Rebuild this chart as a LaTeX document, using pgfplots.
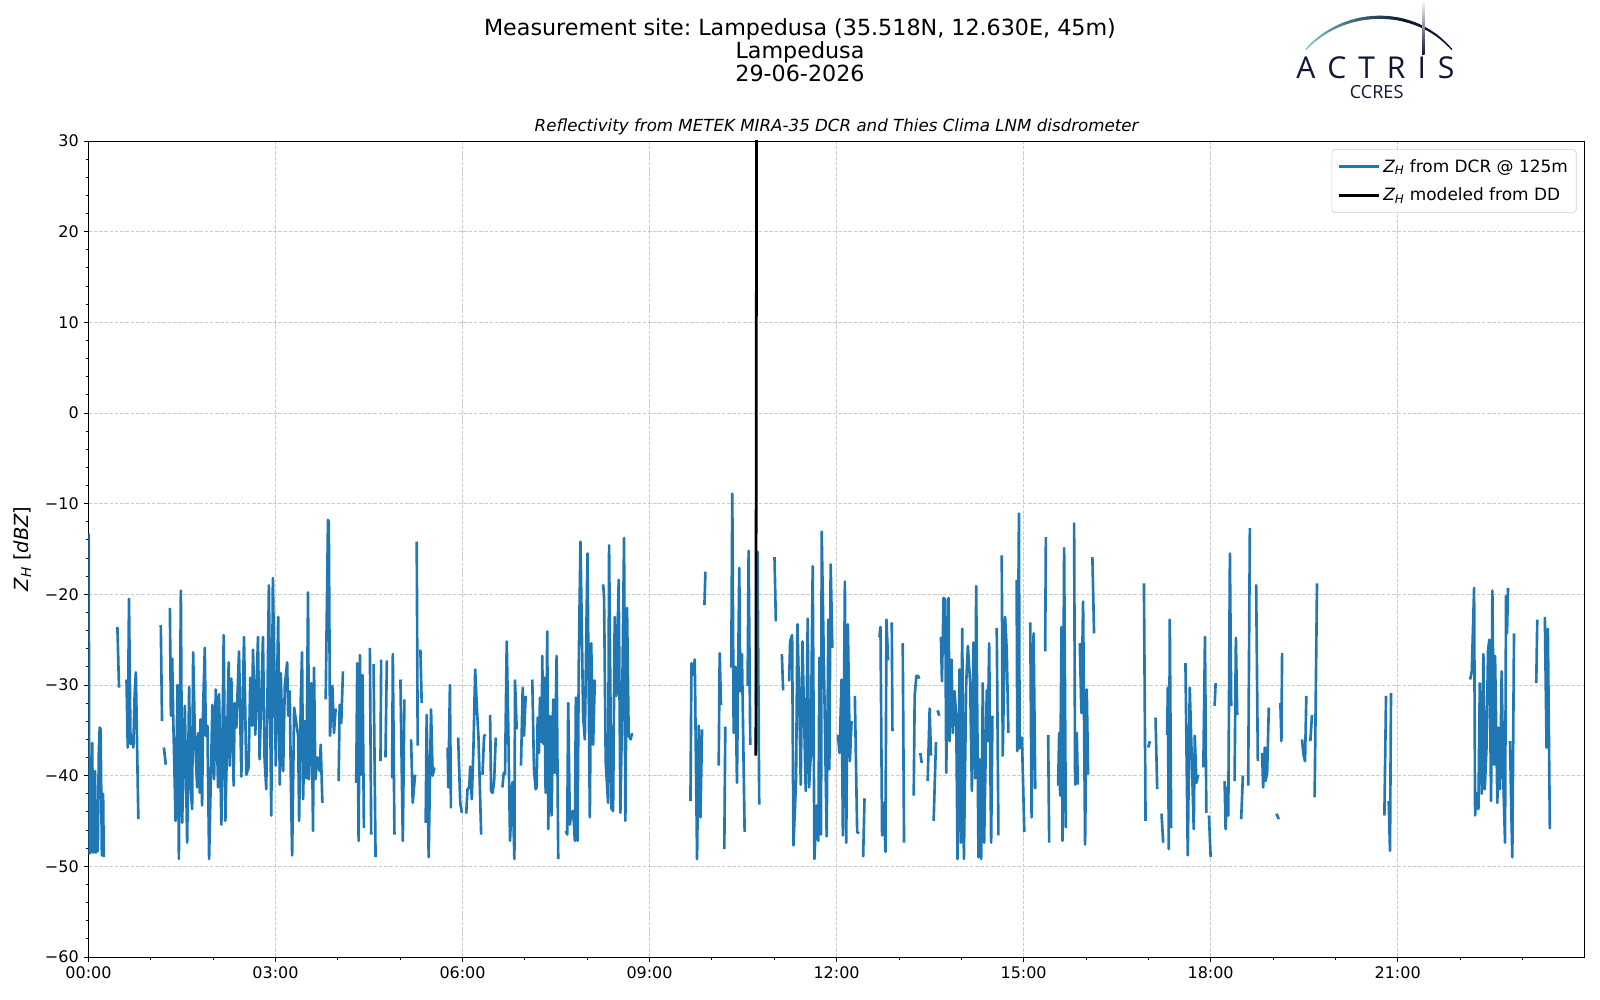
\documentclass[border=0pt]{standalone}
\usepackage{fontspec}
\setmainfont{DejaVu Sans}
\newfontfamily\logofont{Open Sans}
\usepackage{pgfplots}
\pgfplotsset{compat=1.18}
\definecolor{mplblue}{HTML}{1F77B4}
\definecolor{logonavy}{HTML}{0E1634}
\definecolor{logoteal}{HTML}{74C9C3}

\begin{document}
\frenchspacing
\begin{tikzpicture}
\useasboundingbox (-63.7pt,-31.0pt) rectangle (1088.3pt,689.0pt);
\begin{axis}[
  at={(0pt,0pt)}, anchor=south west,
  scale only axis, width=1077.3pt, height=587.5pt,
  xmin=0, xmax=24, ymin=-60, ymax=30,
  xtick={0,3,...,21},
  xticklabels={00:00,03:00,06:00,09:00,12:00,15:00,18:00,21:00},
  minor xtick={1,2,4,5,7,8,10,11,13,14,16,17,19,20,22,23},
  ytick={-60,-50,...,30},
  yticklabels={−60,−50,−40,−30,−20,−10,0,10,20,30},
  minor ytick={-58,-56,...,28},
  tick align=outside, tick pos=left,
  major tick length=3.5pt, minor tick length=2pt,
  every tick/.style={black, line width=0.6pt},
  grid=major,
  major grid style={black!20, dash pattern=on 2.6pt off 1.2pt, line width=0.6pt},
  axis line style={line width=0.6pt},
  tick label style={font=\fontsize{11.5}{13}\selectfont},
  ylabel={{\itshape Z}\textsubscript{\itshape H} [{\itshape dBZ}]},
  ylabel style={at={(axis description cs:-0.0442,0.5)}, anchor=center, font=\fontsize{14}{16}\selectfont},
  title={Reflectivity from METEK MIRA-35 DCR and Thies Clima LNM disdrometer},
  title style={at={(axis description cs:0.5,1)}, anchor=base, yshift=0.5pt, font=\itshape\fontsize{12}{14}\selectfont},
  legend style={at={(1,1)}, anchor=north east, xshift=-5.9pt, yshift=-5.9pt,
    draw=black!20, rounded corners=2.5pt, fill=white, fill opacity=0.8, text opacity=1,
    font=\fontsize{12.2}{14}\selectfont, inner xsep=4pt, inner ysep=5pt, row sep=6pt},
  legend cell align=left,
  legend image code/.code={\draw[#1] (-2pt,0pt) -- (27pt,0pt);},
  unbounded coords=jump,
]
\addplot[mplblue, line width=1.9pt, line join=round] coordinates {
(0.005,-13.3)(0.012,-48.6)(0.04,-48.4)(0.06,-36.4)(0.075,-48.5)(0.09,-48.2)(0.105,-39.5)(0.12,-48.5)(0.135,-48.2)(0.15,-48.3)(0.165,-37.7)(0.18,-34.7)(0.195,-34.9)(0.215,-48.8)(0.225,-48.6)(0.235,-42.0)(0.245,-49.0)(0.3,nan)
(0.464,-23.6)(0.49,-30.3)(0.55,nan)
(0.61,-29.4)(0.63,-36.9)(0.65,-20.5)(0.675,-36.5)(0.69,-35.6)(0.72,-36.9)(0.74,-31.2)(0.76,-28.6)(0.80,-44.8)(0.9,nan)
(1.16,-23.4)(1.18,-34.0)(1.19,nan)
(1.21,-36.9)(1.24,-38.8)(1.27,nan)
(1.306,-21.5)(1.322,-33.4)(1.343,-27.1)(1.359,-33.4)(1.397,-45.0)(1.429,-30.0)(1.450,-49.2)(1.482,-19.6)(1.503,-45.2)(1.546,-32.3)(1.583,-47.4)(1.615,-30.2)(1.636,-41.0)(1.663,-43.7)(1.679,-26.4)(1.706,-35.3)(1.743,-41.3)(1.759,-35.3)(1.786,-41.9)(1.796,-33.8)(1.823,-43.3)(1.839,-32.5)(1.866,-25.9)(1.882,-35.6)(1.908,-34.5)(1.935,-49.2)(1.988,-32.2)(2.015,-40.4)(2.042,-30.5)(2.079,-41.3)(2.095,-31.0)(2.132,-45.4)(2.169,-24.5)(2.196,-45.0)(2.249,-27.5)(2.265,-38.9)(2.292,-29.3)(2.329,-41.1)(2.345,-32.0)(2.372,-34.7)(2.415,-26.3)(2.452,-40.1)(2.495,-24.7)(2.532,-39.9)(2.569,-39.1)(2.596,-29.2)(2.623,-34.5)(2.639,-26.1)(2.676,-35.5)(2.719,-24.7)(2.745,-38.2)(2.799,-24.7)(2.825,-38.2)(2.852,-41.5)(2.894,-19.0)(2.932,-44.4)(2.958,-18.2)(3.005,-38.9)(3.043,-22.5)(3.069,-41.0)(3.085,-28.7)(3.123,-39.5)(3.149,-30.1)(3.187,-27.5)(3.203,-33.4)(3.229,-30.7)(3.245,-39.9)(3.267,-48.8)(3.299,-32.5)(3.363,-35.6)(3.379,-45.0)(3.406,-31.4)(3.426,-26.4)(3.443,-42.6)(3.469,-34.0)(3.496,-40.3)(3.522,-19.8)(3.538,-40.4)(3.576,-29.8)(3.602,-46.1)(3.618,-28.1)(3.640,-40.4)(3.672,-38.0)(3.709,-39.5)(3.725,-36.6)(3.752,-43.0)(3.78,nan)
(3.805,-31.6)(3.842,-11.8)(3.855,-12.0)(3.875,-35.6)(3.912,-30.1)(3.938,-35.3)(3.965,-32.6)(3.99,nan)
(4.013,-40.6)(4.029,-32.2)(4.055,-34.2)(4.082,-28.5)(4.2,nan)
(4.295,-40.8)(4.311,-27.6)(4.333,-47.2)(4.354,-26.7)(4.375,-39.9)(4.397,-28.9)(4.418,-45.8)(4.47,nan)
(4.514,-25.9)(4.535,-46.5)(4.55,nan)
(4.573,-27.7)(4.605,-49.0)(4.64,nan)
(4.684,-38.4)(4.695,-27.2)(4.73,nan)
(4.764,-38.0)(4.786,-27.3)(4.83,nan)
(4.871,-40.3)(4.882,-26.6)(4.908,-46.5)(4.95,nan)
(5.004,-29.4)(5.042,-47.2)(5.068,-31.6)(5.12,nan)
(5.175,-36.0)(5.201,-43.0)(5.239,-39.9)(5.25,nan)
(5.265,-14.2)(5.281,-36.7)(5.30,nan)
(5.324,-26.1)(5.345,-32.0)(5.38,nan)
(5.409,-45.2)(5.425,-33.3)(5.457,-49.0)(5.495,-32.7)(5.521,-40.0)(5.548,-39.1)(5.65,nan)
(5.761,-36.9)(5.772,-41.3)(5.798,-30.0)(5.814,-43.6)(5.87,nan)
(5.93,-35.8)(5.963,-43.0)(5.989,-44.1)(6.02,nan)
(6.059,-44.2)(6.080,-41.5)(6.107,-41.3)(6.123,-39.0)(6.149,-42.6)(6.176,-36.7)(6.203,-28.3)(6.229,-32.3)(6.256,-35.8)(6.299,-46.5)(6.31,nan)
(6.320,-39.9)(6.346,-35.6)(6.373,-35.5)(6.40,nan)
(6.442,-33.3)(6.458,-41.7)(6.480,-41.9)(6.506,-40.8)(6.533,-35.8)(6.59,nan)
(6.640,-41.3)(6.661,-39.7)(6.682,-39.8)(6.709,-25.2)(6.736,-35.6)(6.762,-47.2)(6.800,-40.7)(6.832,-49.2)(6.842,-29.5)(6.869,-34.9)(6.9,nan)
(6.938,-38.9)(6.965,-30.3)(6.986,-35.6)(7.013,-31.2)(7.07,nan)
(7.119,-29.4)(7.146,-39.3)(7.173,-41.5)(7.189,-41.3)(7.205,-33.6)(7.226,-37.5)(7.242,-31.4)(7.269,-36.3)(7.279,-26.8)(7.295,-36.5)(7.311,-29.2)(7.333,-41.9)(7.359,-24.1)(7.375,-45.9)(7.402,-33.4)(7.429,-44.4)(7.455,-31.6)(7.482,-39.7)(7.509,-26.8)(7.535,-49.2)(7.6,nan)
(7.658,-46.1)(7.679,-46.5)(7.695,-32.0)(7.722,-45.4)(7.748,-44.1)(7.775,-43.9)(7.802,-47.2)(7.818,-31.4)(7.844,-47.2)(7.866,-26.6)(7.892,-14.2)(7.935,-33.6)(7.962,-36.0)(8.004,-15.5)(8.042,-44.6)(8.064,-25.4)(8.095,-36.6)(8.122,-29.4)(8.19,nan)
(8.255,-18.9)(8.27,-20.2)(8.297,-38.6)(8.335,-43.0)(8.351,-14.6)(8.388,-43.6)(8.415,-43.9)(8.441,-22.5)(8.468,-31.2)(8.505,-18.4)(8.532,-44.1)(8.559,-33.1)(8.591,-13.8)(8.612,-45.0)(8.639,-21.5)(8.665,-35.6)(8.697,-36.0)(8.719,-35.3)(8.75,nan)
(9.656,-42.8)(9.672,-27.6)(9.693,-28.9)(9.725,-27.2)(9.762,-49.2)(9.789,-34.5)(9.816,-44.6)(9.842,-34.9)(9.86,nan)
(9.880,-21.2)(9.896,-17.5)(9.95,nan)
(10.109,-38.9)(10.125,-26.5)(10.146,-32.2)(10.17,nan)
(10.199,-48.1)(10.215,-34.6)(10.25,nan)
(10.311,-28.1)(10.327,-8.9)(10.349,-35.3)(10.375,-28.0)(10.402,-40.8)(10.439,-17.1)(10.455,-30.7)(10.482,-26.6)(10.525,-46.2)(10.55,nan)
(10.573,-30.1)(10.589,-15.2)(10.615,-36.6)(10.66,nan)
(10.706,-32.2)(10.732,-15.3)(10.759,-43.2)(10.85,nan)
(11.004,-15.9)(11.026,-23.0)(11.08,nan)
(11.122,-26.6)(11.143,-30.6)(11.2,nan)
(11.239,-29.6)(11.255,-25.2)(11.287,-24.5)(11.308,-47.7)(11.35,-40.5)(11.372,-23.3)(11.404,-32.6)(11.425,-41.0)(11.452,-25.2)(11.505,-41.7)(11.537,-22.7)(11.559,-41.3)(11.585,-37.8)(11.617,-16.9)(11.644,-49.2)(11.681,-43.3)(11.708,-47.2)(11.724,-27.0)(11.751,-46.5)(11.761,-13.1)(11.814,-34.9)(11.841,-46.7)(11.868,-22.8)(11.884,-39.3)(11.905,-16.7)(11.932,-25.9)(11.97,nan)
(12.021,-35.5)(12.048,-37.5)(12.080,-29.4)(12.101,-46.6)(12.133,-18.6)(12.155,-47.4)(12.181,-23.3)(12.213,-38.4)(12.240,-34.0)(12.27,nan)
(12.293,-31.2)(12.330,-46.2)(12.357,-46.4)(12.39,nan)
(12.426,-49.0)(12.448,-42.5)(12.5,nan)
(12.688,-24.7)(12.704,-23.6)(12.730,-46.6)(12.757,-43.0)(12.784,-48.4)(12.800,-22.8)(12.826,-27.3)(12.86,nan)
(12.885,-23.1)(12.896,-35.1)(12.95,nan)
(13.061,-25.4)(13.082,-47.4)(13.15,nan)
(13.237,-42.2)(13.253,-31.2)(13.279,-29.0)(13.306,-29.0)(13.327,-29.3)(13.335,nan)
(13.343,-37.5)(13.365,-38.6)(13.4,nan)
(13.461,-40.6)(13.493,-32.6)(13.514,-37.8)(13.535,nan)
(13.557,-45.0)(13.594,-36.3)(13.607,nan)
(13.620,-32.8)(13.647,-33.4)(13.66,nan)
(13.674,-24.7)(13.690,-29.6)(13.716,-20.4)(13.743,-20.6)(13.759,-39.7)(13.796,-20.4)(13.812,-36.2)(13.844,-27.2)(13.866,-35.3)(13.892,-30.7)(13.919,-33.4)(13.940,-49.2)(13.972,-28.3)(13.994,-47.4)(14.015,-23.8)(14.042,-49.2)(14.079,-29.8)(14.106,-25.7)(14.143,-29.8)(14.170,-41.7)(14.196,-25.3)(14.223,-40.3)(14.239,-19.1)(14.276,-49.0)(14.292,-38.2)(14.319,-49.2)(14.345,-29.8)(14.367,-47.4)(14.409,-30.6)(14.425,-36.2)(14.447,-25.4)(14.479,-47.4)(14.500,-33.4)(14.53,nan)
(14.569,-23.7)(14.596,-46.6)(14.62,nan)
(14.649,-15.7)(14.665,-37.8)(14.703,-22.5)(14.729,-26.1)(14.756,-35.3)(14.8,nan)
(14.888,-18.4)(14.899,-37.3)(14.925,-11.1)(14.936,-37.0)(14.973,-35.8)(15.011,-46.2)(15.05,nan)
(15.107,-23.1)(15.128,-44.6)(15.160,-24.3)(15.187,-41.5)(15.25,nan)
(15.346,-26.3)(15.357,-13.7)(15.37,nan)
(15.394,-35.5)(15.410,-47.4)(15.45,nan)
(15.554,-41.1)(15.570,-35.3)(15.586,-42.2)(15.608,-23.6)(15.624,-47.2)(15.650,-14.9)(15.677,-45.8)(15.75,nan)
(15.810,-12.1)(15.826,-41.0)(15.853,-35.3)(15.869,-41.0)(15.885,nan)
(15.901,-25.4)(15.927,-33.1)(15.954,-20.8)(15.986,-47.6)(16.013,-30.5)(16.034,-39.9)(16.07,nan)
(16.103,-15.9)(16.130,-24.3)(16.5,nan)
(16.930,-18.8)(16.956,-45.0)(16.98,nan)
(16.999,-36.9)(17.026,-36.2)(17.06,nan)
(17.116,-33.6)(17.143,-41.5)(17.18,nan)
(17.212,-44.2)(17.239,-47.4)(17.27,nan)
(17.303,-35.5)(17.313,-30.3)(17.329,-48.1)(17.345,-22.8)(17.367,-45.8)(17.45,nan)
(17.596,-27.6)(17.633,-48.8)(17.665,-30.3)(17.729,-45.9)(17.745,-35.6)(17.772,-40.8)(17.799,-39.9)(17.84,nan)
(17.883,-39.1)(17.909,-24.7)(17.931,-44.1)(17.95,nan)
(17.973,-44.4)(18.0,-49.0)(18.03,nan)
(18.064,-32.3)(18.080,-29.8)(18.15,nan)
(18.224,-40.6)(18.240,-45.9)(18.267,-41.3)(18.283,-44.4)(18.309,-15.5)(18.330,-32.3)(18.36,nan)
(18.384,-40.6)(18.405,-24.8)(18.426,-33.3)(18.46,nan)
(18.490,-44.8)(18.517,-40.0)(18.56,nan)
(18.602,-41.1)(18.629,-12.7)(18.68,nan)
(18.730,-18.9)(18.757,-38.4)(18.8,nan)
(18.826,-37.5)(18.842,-41.3)(18.869,-36.9)(18.880,-40.6)(18.906,-39.7)(18.933,-32.5)(19.0,nan)
(19.055,-44.2)(19.093,-44.8)(19.105,nan)
(19.119,-32.0)(19.135,-36.2)(19.146,-26.5)(19.3,nan)
(19.466,-36.0)(19.487,-37.6)(19.514,-38.4)(19.535,-31.2)(19.56,nan)
(19.599,-36.2)(19.626,-33.3)(19.64,nan)
(19.668,-42.4)(19.706,-18.8)(20.5,nan)
(20.787,-44.4)(20.813,-31.2)(20.83,nan)
(20.856,-42.8)(20.877,-48.3)(20.893,-30.9)(21.0,nan)
(22.162,-29.4)(22.189,-28.5)(22.226,-19.3)(22.242,-44.4)(22.263,-41.9)(22.295,-43.7)(22.317,-29.8)(22.349,-42.0)(22.375,-26.6)(22.397,-41.5)(22.423,-37.3)(22.450,-26.1)(22.471,-25.0)(22.498,-42.8)(22.519,-19.6)(22.546,-38.8)(22.562,-26.8)(22.599,-43.0)(22.615,-34.7)(22.642,-41.5)(22.668,-28.5)(22.695,-40.6)(22.722,-47.4)(22.738,-20.2)(22.754,-24.3)(22.770,-19.3)(22.786,nan)
(22.802,-36.2)(22.823,-43.9)(22.839,-49.0)(22.866,-24.3)(22.9,nan)
(23.223,-29.8)(23.239,-22.8)(23.3,nan)
(23.361,-22.5)(23.388,-36.9)(23.409,-23.8)(23.441,-45.9)
};
\addlegendentry{{\itshape Z}\textsubscript{\itshape H} from DCR @ 125m}
\addplot[black, line width=2pt] coordinates {(10.705,-37.8)(10.718,40)};
\addlegendentry{{\itshape Z}\textsubscript{\itshape H} modeled from DD}
\end{axis}

% suptitle
\node[anchor=base, font=\fontsize{16}{18}\selectfont] at (512.3pt,663.3pt) {Measurement site: Lampedusa (35.518N, 12.630E, 45m)};
\node[anchor=base, font=\fontsize{16}{18}\selectfont] at (512.3pt,647.2pt) {Lampedusa};
\node[anchor=base, font=\fontsize{16}{18}\selectfont] at (512.3pt,630.3pt) {29-06-2026};

% logo
\foreach \i in {0,...,39}{
  \pgfmathsetmacro{\ta}{\i/40}
  \pgfmathsetmacro{\tb}{(\i+1)/40}
  \pgfmathsetmacro{\xa}{(1-\ta)^3*876.6+3*(1-\ta)^2*\ta*905+3*(1-\ta)*\ta^2*955+\ta^3*981.5}
  \pgfmathsetmacro{\ya}{(1-\ta)^3*653.5+3*(1-\ta)^2*\ta*684.3+3*(1-\ta)*\ta^2*684.3+\ta^3*653.5}
  \pgfmathsetmacro{\xb}{(1-\tb)^3*876.6+3*(1-\tb)^2*\tb*905+3*(1-\tb)*\tb^2*955+\tb^3*981.5}
  \pgfmathsetmacro{\yb}{(1-\tb)^3*653.5+3*(1-\tb)^2*\tb*684.3+3*(1-\tb)*\tb^2*684.3+\tb^3*653.5}
  \pgfmathtruncatemacro{\mix}{min(100,\i*100/26)}
  \pgfmathsetmacro{\lw}{0.9+1.4*sin(180*(\ta+0.0125))}
  \draw[line width=\lw pt, line cap=round, color=logonavy!\mix!logoteal] (\xa pt,\ya pt) -- (\xb pt,\yb pt);
}
\shade[top color=white, bottom color=logonavy] (960.2pt,650pt) rectangle (962.0pt,688.8pt);
\node[anchor=base, font=\logofont\fontsize{21.7}{24}\selectfont, text=logonavy, inner sep=0pt] at (926.6pt,632.7pt) {A\hspace{8.6pt}C\hspace{8.6pt}T\hspace{8.6pt}R\hspace{8.6pt}I\hspace{8.6pt}S};
\node[anchor=base, font=\logofont\fontsize{13}{15}\selectfont, text=logonavy, inner sep=0pt] at (927.5pt,617.8pt) {CCRES};
\end{tikzpicture}
\end{document}
